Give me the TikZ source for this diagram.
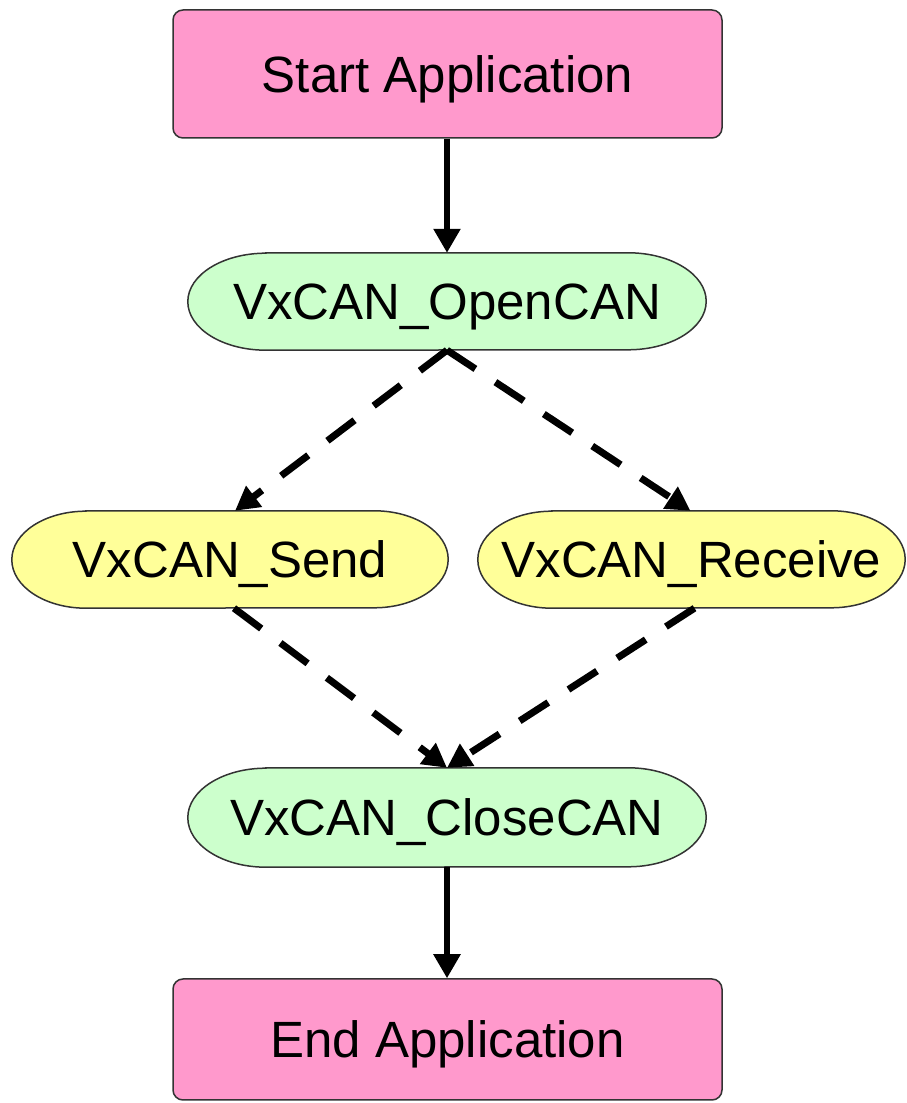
\documentclass[tikz,border=0pt]{standalone}
\usepackage{fontspec}
\setmainfont{Liberation Sans}
\usetikzlibrary{arrows.meta,backgrounds}
\definecolor{pinkfill}{HTML}{FF99CC}
\definecolor{greenfill}{HTML}{CCFFCC}
\definecolor{yellowfill}{HTML}{FFFF99}
\newcommand\drawstadium[4]{%
  \draw[draw=black!80, line width=1.5pt, fill=#2]
    ([xshift=#3]#1.north west) -- ([xshift=-#3]#1.north east)
    arc[start angle=90, end angle=-90, x radius=#3, y radius=#4]
    -- ([xshift=#3]#1.south west)
    arc[start angle=270, end angle=90, x radius=#3, y radius=#4] -- cycle;}
\begin{document}
\begin{tikzpicture}[x=1pt,y=1pt,
  lbl/.style={inner sep=0pt, font=\fontsize{51}{60}\selectfont, text height=36.5pt, text depth=0pt},
  box/.style={lbl, draw=black!80, line width=1.5pt, rounded corners=10pt},
  flow/.style={line width=5.5pt, -{Triangle[width=26pt,length=24pt]}},
  dflow/.style={line width=7pt, dash pattern=on 34pt off 24pt, -{Triangle[width=25pt,length=24pt]}}
  ]
\useasboundingbox (0,0) rectangle (906,1103);
\node[box, fill=pinkfill, minimum width=549pt, minimum height=128pt] (start) at (447.5,1029) {Start Application};
\node[lbl, minimum width=518pt, minimum height=97pt] (open) at (447,801.5) {VxCAN\_OpenCAN};
\node[lbl, minimum width=436pt, minimum height=97pt] (send) at (230,543.5) {VxCAN\_Send};
\node[lbl, minimum width=427pt, minimum height=97pt] (recv) at (691.5,543.5) {VxCAN\_Receive};
\node[lbl, minimum width=518pt, minimum height=99pt] (close) at (447,285.5) {VxCAN\_CloseCAN};
\node[box, fill=pinkfill, minimum width=549pt, minimum height=121pt] (end) at (447.5,63.5) {End Application};
\begin{scope}[on background layer]
  \drawstadium{open}{greenfill}{78pt}{48.5pt}
  \drawstadium{send}{yellowfill}{74pt}{48.5pt}
  \drawstadium{recv}{yellowfill}{74pt}{48.5pt}
  \drawstadium{close}{greenfill}{78pt}{49.5pt}
\end{scope}
\draw[flow] (start.south -| open.north) -- (open.north);
\draw[dflow] (open.south) -- ([xshift=5pt]send.north);
\draw[dflow] (open.south) -- ([xshift=-1pt]recv.north);
\draw[dflow] ([xshift=4pt]send.south) -- (close.north);
\draw[dflow] ([xshift=3pt]recv.south) -- (close.north);
\draw[flow] (close.south) -- (close.south |- end.north);
\end{tikzpicture}
\end{document}
